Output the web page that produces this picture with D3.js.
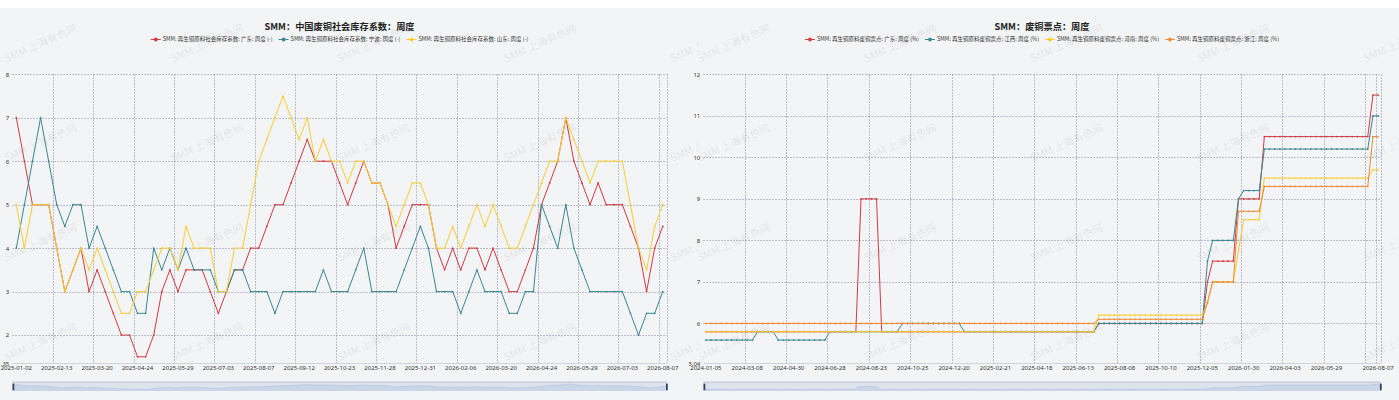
<!DOCTYPE html>
<html><head><meta charset="utf-8">
<script src="https://cdn.jsdelivr.net/npm/d3@7"></script>
<style>
html,body{margin:0;padding:0;background:#fff;overflow:hidden;}
svg{display:block;font-family:"Noto Sans CJK SC","Noto Sans",sans-serif;}
</style></head><body>
<svg id="c" width="1399" height="400"></svg>
<script>
// ---------------- LEFT CHART DATA ----------------
const leftTitle = "SMM：中国废铜社会库存系数：周度";
const leftNames = ["SMM: 再生铜原料社会库存系数: 广东: 周度 (-)","SMM: 再生铜原料社会库存系数: 宁波: 周度 (-)","SMM: 再生铜原料社会库存系数: 山东: 周度 (-)"];
const leftCategories = [
"2025-01-02","2025-01-09","2025-01-16","2025-01-23","2025-02-06","2025-02-13","2025-02-20","2025-02-27","2025-03-06","2025-03-13",
"2025-03-20","2025-03-27","2025-04-03","2025-04-10","2025-04-17","2025-04-24","2025-04-30","2025-05-08","2025-05-15","2025-05-22",
"2025-05-29","2025-06-05","2025-06-12","2025-06-19","2025-06-26","2025-07-03","2025-07-10","2025-07-17","2025-07-24","2025-07-31",
"2025-08-07","2025-08-14","2025-08-21","2025-08-28","2025-09-04","2025-09-12","2025-09-19","2025-09-26","2025-10-09","2025-10-16",
"2025-10-23","2025-10-31","2025-11-07","2025-11-14","2025-11-21","2025-11-28","2025-12-05","2025-12-12","2025-12-19","2025-12-26",
"2025-12-31","2026-01-09","2026-01-16","2026-01-23","2026-01-30","2026-02-06","2026-02-13","2026-02-27","2026-03-06","2026-03-13",
"2026-03-20","2026-03-27","2026-04-03","2026-04-10","2026-04-17","2026-04-24","2026-04-30","2026-05-08","2026-05-15","2026-05-22",
"2026-05-29","2026-06-05","2026-06-12","2026-06-19","2026-06-26","2026-07-03","2026-07-10","2026-07-17","2026-07-24","2026-07-31",
"2026-08-07"];
const leftTickLabels = ["2025-01-02","2025-02-13","2025-03-20","2025-04-24","2025-05-29","2025-07-03","2025-08-07","2025-09-12","2025-10-23","2025-11-28","2025-12-31","2026-02-06","2026-03-20","2026-04-24","2026-05-29","2026-07-03","2026-08-07"];
const leftYTicks = [2,3,4,5,6,7,8];
const leftYMin = 1.35, leftYMax = 8;
const guangdongStock = [
7,6,5,5,5,4,3,3.5,4,3,
3.5,3,2.5,2,2,1.5,1.5,2,3,3.5,
3,3.5,3.5,3.5,3,2.5,3,3.5,3.5,4,
4,4.5,5,5,5.5,6,6.5,6,6,6,
5.5,5,5.5,6,5.5,5.5,5,4,4.5,5,
5,5,4,3.5,4,3.5,4,4,3.5,4,
3.5,3,3,3.5,4,5,5.5,6,7,6,
5.5,5,5.5,5,5,5,4.5,4,3,4,
4.5];
const ningboStock = [
4,5,6,7,6,5,4.5,5,5,4,
4.5,4,3.5,3,3,2.5,2.5,4,3.5,4,
3.5,4,3.5,3.5,3.5,3,3,3.5,3.5,3,
3,3,2.5,3,3,3,3,3,3.5,3,
3,3,3.5,4,3,3,3,3,3.5,4,
4.5,4,3,3,3,2.5,3,3.5,3,3,
3,2.5,2.5,3,3,5,4.5,4,5,4,
3.5,3,3,3,3,3,2.5,2,2.5,2.5,
3];
const shandongStock = [
5,4,5,5,5,4,3,3.5,4,3.5,
4,3.5,3,2.5,2.5,3,3,3.5,4,4,
3.5,4.5,4,4,4,3,3,4,4,5,
6,6.5,7,7.5,7,6.5,7,6,6.5,6,
6,5.5,6,6,5.5,5.5,5,4.5,5,5.5,
5.5,5,4,4,4.5,4,4.5,5,4.5,5,
4.5,4,4,4.5,5,5.5,6,6,7,6.5,
6,5.5,6,6,6,6,5,4,3.5,4.5,
5];

// ---------------- RIGHT CHART DATA ----------------
const rightTitle = "SMM：废铜票点：周度";
const rightNames = ["SMM: 再生铜原料废铜票点: 广东: 周度 (%)","SMM: 再生铜原料废铜票点: 江西: 周度 (%)","SMM: 再生铜原料废铜票点: 河南: 周度 (%)","SMM: 再生铜原料废铜票点: 浙江: 周度 (%)"];
const rightCategories = [
"2024-01-05","2024-01-12","2024-01-19","2024-01-26","2024-02-02","2024-02-08","2024-02-23","2024-03-01","2024-03-08","2024-03-15",
"2024-03-22","2024-03-29","2024-04-03","2024-04-12","2024-04-19","2024-04-26","2024-04-30","2024-05-10","2024-05-17","2024-05-24",
"2024-05-31","2024-06-07","2024-06-14","2024-06-21","2024-06-28","2024-07-05","2024-07-12","2024-07-19","2024-07-26","2024-08-02",
"2024-08-09","2024-08-16","2024-08-23","2024-08-30","2024-09-06","2024-09-13","2024-09-20","2024-09-27","2024-10-11","2024-10-18",
"2024-10-25","2024-11-01","2024-11-08","2024-11-15","2024-11-22","2024-11-29","2024-12-06","2024-12-13","2024-12-20","2024-12-27",
"2025-01-03","2025-01-10","2025-01-17","2025-01-24","2025-02-07","2025-02-14","2025-02-21","2025-02-28","2025-03-07","2025-03-14",
"2025-03-21","2025-03-28","2025-04-03","2025-04-11","2025-04-18","2025-04-25","2025-04-30","2025-05-09","2025-05-16","2025-05-23",
"2025-05-30","2025-06-06","2025-06-13","2025-06-20","2025-06-27","2025-07-04","2025-07-11","2025-07-18","2025-07-25","2025-08-01",
"2025-08-08","2025-08-15","2025-08-22","2025-08-29","2025-09-05","2025-09-12","2025-09-19","2025-09-26","2025-10-10","2025-10-17",
"2025-10-24","2025-10-31","2025-11-07","2025-11-14","2025-11-21","2025-11-28","2025-12-05","2025-12-12","2025-12-19","2025-12-26",
"2026-01-02","2026-01-09","2026-01-16","2026-01-23","2026-01-30","2026-02-06","2026-02-13","2026-02-27","2026-03-06","2026-03-13",
"2026-03-20","2026-03-27","2026-04-03","2026-04-10","2026-04-17","2026-04-24","2026-04-30","2026-05-08","2026-05-15","2026-05-22",
"2026-05-29","2026-06-05","2026-06-12","2026-06-19","2026-06-26","2026-07-03","2026-07-10","2026-07-17","2026-07-24","2026-07-31",
"2026-08-07"];
const rightTickLabels = ["2024-01-05","2024-03-08","2024-04-30","2024-06-28","2024-08-23","2024-10-25","2024-12-20","2025-02-21","2025-04-18","2025-06-13","2025-08-08","2025-10-10","2025-12-05","2026-01-30","2026-04-03","2026-05-29","2026-08-07"];
const rightYTicks = [6,7,8,9,10,11,12];
const rightYMin = 5.04, rightYMax = 12;
const guangdongPoint = [
5.8,5.8,5.8,5.8,5.8,5.8,5.8,5.8,5.8,5.8,
5.8,5.8,5.8,5.8,5.8,5.8,5.8,5.8,5.8,5.8,
5.8,5.8,5.8,5.8,5.8,5.8,5.8,5.8,5.8,5.8,
9,9,9,9,5.8,5.8,5.8,5.8,5.8,5.8,
5.8,5.8,5.8,5.8,5.8,5.8,5.8,5.8,5.8,5.8,
5.8,5.8,5.8,5.8,5.8,5.8,5.8,5.8,5.8,5.8,
5.8,5.8,5.8,5.8,5.8,5.8,5.8,5.8,5.8,5.8,
5.8,5.8,5.8,5.8,5.8,5.8,6,6,6,6,
6,6,6,6,6,6,6,6,6,6,
6,6,6,6,6,6,6,7,7.5,7.5,
7.5,7.5,7.5,9,9,9,9,9,10.5,10.5,
10.5,10.5,10.5,10.5,10.5,10.5,10.5,10.5,10.5,10.5,
10.5,10.5,10.5,10.5,10.5,10.5,10.5,10.5,10.5,11.5,
11.5];
const jiangxiPoint = [
5.6,5.6,5.6,5.6,5.6,5.6,5.6,5.6,5.6,5.6,
5.8,5.8,5.8,5.8,5.6,5.6,5.6,5.6,5.6,5.6,
5.6,5.6,5.6,5.6,5.8,5.8,5.8,5.8,5.8,5.8,
5.8,5.8,5.8,5.8,5.8,5.8,5.8,5.8,6,6,
6,6,6,6,6,6,6,6,6,6,
5.8,5.8,5.8,5.8,5.8,5.8,5.8,5.8,5.8,5.8,
5.8,5.8,5.8,5.8,5.8,5.8,5.8,5.8,5.8,5.8,
5.8,5.8,5.8,5.8,5.8,5.8,6,6,6,6,
6,6,6,6,6,6,6,6,6,6,
6,6,6,6,6,6,6,7.5,8,8,
8,8,8,9,9.2,9.2,9.2,9.2,10.2,10.2,
10.2,10.2,10.2,10.2,10.2,10.2,10.2,10.2,10.2,10.2,
10.2,10.2,10.2,10.2,10.2,10.2,10.2,10.2,10.2,11,
11];
const henanPoint = [
5.8,5.8,5.8,5.8,5.8,5.8,5.8,5.8,5.8,5.8,
5.8,5.8,5.8,5.8,5.8,5.8,5.8,5.8,5.8,5.8,
5.8,5.8,5.8,5.8,5.8,5.8,5.8,5.8,5.8,5.8,
5.8,5.8,5.8,5.8,5.8,5.8,5.8,5.8,5.8,5.8,
5.8,5.8,5.8,5.8,5.8,5.8,5.8,5.8,5.8,5.8,
5.8,5.8,5.8,5.8,5.8,5.8,5.8,5.8,5.8,5.8,
5.8,5.8,5.8,5.8,5.8,5.8,5.8,5.8,5.8,5.8,
5.8,5.8,5.8,5.8,5.8,5.8,6.2,6.2,6.2,6.2,
6.2,6.2,6.2,6.2,6.2,6.2,6.2,6.2,6.2,6.2,
6.2,6.2,6.2,6.2,6.2,6.2,6.2,6.5,7,7,
7,7,7,7.75,8.5,8.5,8.5,8.5,9.5,9.5,
9.5,9.5,9.5,9.5,9.5,9.5,9.5,9.5,9.5,9.5,
9.5,9.5,9.5,9.5,9.5,9.5,9.5,9.5,9.5,9.7,
9.7];
const zhejiangPoint = [
6,6,6,6,6,6,6,6,6,6,
6,6,6,6,6,6,6,6,6,6,
6,6,6,6,6,6,6,6,6,6,
6,6,6,6,6,6,6,6,6,6,
6,6,6,6,6,6,6,6,6,6,
6,6,6,6,6,6,6,6,6,6,
6,6,6,6,6,6,6,6,6,6,
6,6,6,6,6,6,6.1,6.1,6.1,6.1,
6.1,6.1,6.1,6.1,6.1,6.1,6.1,6.1,6.1,6.1,
6.1,6.1,6.1,6.1,6.1,6.1,6.1,6.5,7,7,
7,7,7,8.7,8.7,8.7,8.7,8.7,9.3,9.3,
9.3,9.3,9.3,9.3,9.3,9.3,9.3,9.3,9.3,9.3,
9.3,9.3,9.3,9.3,9.3,9.3,9.3,9.3,9.3,10.5,
10.5];

const watermark = "SMM 上海有色网";
const colors = {red:"#d13a44", teal:"#3a8690", yellow:"#f8cd33", orange:"#ee8a33"};

// ---------------- DRAWING ----------------
const svg = d3.select("#c");
svg.append("rect").attr("width",1399).attr("height",400).attr("fill","#ffffff");
svg.append("rect").attr("y",8).attr("width",1399).attr("height",392).attr("fill","#f3f4f6");
const defs = svg.append("defs");

function drawChart(cfg){
  const g = svg.append("g");
  const clipId = "clip" + cfg.id;
  defs.append("clipPath").attr("id",clipId).append("rect")
    .attr("x",cfg.x0).attr("y",8).attr("width",cfg.w).attr("height",392);

  const x = d3.scaleBand().domain(d3.range(cfg.categories.length)).range([cfg.left,cfg.right]).padding(0);
  const y = d3.scaleLinear().domain([cfg.yMin,cfg.yMax]).range([cfg.bottom,cfg.top]);
  const cx = i => x(i) + x.bandwidth()/2;

  // watermark
  const wm = g.append("g").attr("clip-path",`url(#${clipId})`);
  for(let r=0;r<4;r++){
    for(let c=0;c<5;c++){
      const px = cfg.x0 + cfg.wmOffset + 166.5*c, py = 44 + 99.6*r;
      wm.append("text").attr("transform",`translate(${px},${py}) rotate(-24)`)
        .attr("text-anchor","middle").attr("dominant-baseline","middle")
        .attr("font-size",10.5).attr("fill","#000").attr("fill-opacity",0.09)
        .text(watermark);
    }
  }

  // horizontal grid
  const gridStyle = sel => sel.attr("stroke","#7f859f").attr("stroke-width",0.8)
      .attr("stroke-dasharray","1.5,1.5").attr("stroke-opacity",0.85);
  g.append("g").selectAll("line").data(cfg.yTicks).join("line")
    .attr("x1",cfg.left).attr("x2",cfg.right)
    .attr("y1",d=>Math.round(y(d))+0.5).attr("y2",d=>Math.round(y(d))+0.5)
    .call(gridStyle);

  // vertical grid at tick boundaries
  const labelIdx = cfg.tickLabels.map(l => cfg.categories.indexOf(l));
  const gridIdx = new Set(labelIdx.filter(i => i > 0));
  for(let i=cfg.every;i<cfg.categories.length;i+=cfg.every) gridIdx.add(i);
  const gx = [...gridIdx].map(i => x(i));
  gx.push(cfg.right);
  g.append("g").selectAll("line").data(gx).join("line")
    .attr("x1",d=>Math.round(d)+0.5).attr("x2",d=>Math.round(d)+0.5)
    .attr("y1",cfg.top).attr("y2",cfg.bottom)
    .call(gridStyle);

  // bottom axis line
  g.append("line").attr("x1",cfg.left).attr("x2",cfg.right)
    .attr("y1",Math.round(cfg.bottom)+0.5).attr("y2",Math.round(cfg.bottom)+0.5)
    .attr("stroke","#cfd3dc").attr("stroke-width",1);

  // y axis labels
  const yAxis = d3.axisLeft(y).tickValues([cfg.yMin,...cfg.yTicks]).tickSize(0).tickPadding(3)
    .tickFormat(d => String(d));
  const ya = g.append("g").attr("transform",`translate(${cfg.left},0)`).call(yAxis);
  ya.select(".domain").remove();
  ya.selectAll("text").attr("font-size",6).attr("fill","#333").attr("font-family","'Noto Sans',sans-serif");

  // x axis labels
  const xAxis = d3.axisBottom(x).tickValues(labelIdx).tickSize(0).tickPadding(2.5)
    .tickFormat(i => cfg.categories[i]);
  const xa = g.append("g").attr("transform",`translate(0,${cfg.bottom})`).call(xAxis);
  xa.select(".domain").remove();
  xa.selectAll("text").attr("font-size",6).attr("fill","#333").attr("font-family","'Noto Sans',sans-serif");

  // series
  const line = d3.line().x((d,i)=>cx(i)).y(d=>y(d));
  cfg.series.forEach(s => {
    g.append("path").datum(s.values).attr("d",line).attr("fill","none")
      .attr("stroke",s.color).attr("stroke-width",1).attr("stroke-linejoin","round");
    g.append("g").selectAll("circle").data(s.values).join("circle")
      .attr("cx",(d,i)=>cx(i)).attr("cy",d=>y(d)).attr("r",0.9).attr("fill",s.color);
  });

  // title
  const mid = (cfg.left + cfg.right)/2;
  g.append("text").attr("x",mid).attr("y",27).attr("text-anchor","middle")
    .attr("dominant-baseline","middle").attr("font-size",9.2).attr("font-weight","bold")
    .attr("fill","#222").text(cfg.title);

  // legend
  const lg = g.append("g");
  const items = cfg.series.map(s => {
    const it = lg.append("g");
    it.append("line").attr("x1",0).attr("x2",10).attr("y1",0).attr("y2",0).attr("stroke",s.color).attr("stroke-width",1);
    it.append("circle").attr("cx",5).attr("cy",0).attr("r",1.9).attr("fill",s.color);
    const t = it.append("text").attr("x",12).attr("y",0).attr("dominant-baseline","middle")
      .attr("font-size",5.5).attr("fill","#333").text(s.name);
    return {it, w: 12 + t.node().getComputedTextLength()};
  });
  const gap = 6;
  const total = d3.sum(items, d=>d.w) + gap*(items.length-1);
  let lx = mid - total/2;
  items.forEach(d => { d.it.attr("transform",`translate(${lx},39.5)`); lx += d.w + gap; });

  // data zoom slider
  const sTop = 382.5, sBot = 391;
  const sl = g.append("g");
  sl.append("rect").attr("x",cfg.left).attr("y",sTop).attr("width",cfg.right-cfg.left).attr("height",sBot-sTop)
    .attr("fill","#dde3ed");
  const v0 = cfg.series[0].values;
  const ext = d3.extent(v0), off = (ext[1]-ext[0])*0.3;
  const sy = d3.scaleLinear().domain([ext[0]-off, ext[1]+off]).range([sBot, sTop]);
  const sx = d3.scaleLinear().domain([0, v0.length-1]).range([cfg.left, cfg.right]);
  sl.append("path").datum(v0).attr("d", d3.area().x((d,i)=>sx(i)).y0(sBot).y1(d=>sy(d)))
    .attr("fill","#cad5e8");
  sl.append("path").datum(v0).attr("d", d3.line().x((d,i)=>sx(i)).y(d=>sy(d)))
    .attr("fill","none").attr("stroke","#b3c1dc").attr("stroke-width",0.6);
  sl.append("rect").attr("x",cfg.left).attr("y",sTop-1).attr("width",cfg.right-cfg.left).attr("height",1.3)
    .attr("fill","#c0c8d7");
  [cfg.left+1, cfg.right].forEach(hx => {
    sl.append("rect").attr("x",hx-0.8).attr("y",383.6).attr("width",1.8).attr("height",6.6).attr("fill","#33405a");
  });
}

drawChart({
  id:"L", x0:0, w:699, wmOffset:41,
  left:12.3, right:666.8, top:74.3, bottom:363.3,
  yMin:leftYMin, yMax:leftYMax, yTicks:leftYTicks,
  categories:leftCategories, tickLabels:leftTickLabels, every:5,
  title:leftTitle,
  series:[
    {name:leftNames[0], color:colors.red, values:guangdongStock},
    {name:leftNames[1], color:colors.teal, values:ningboStock},
    {name:leftNames[2], color:colors.yellow, values:shandongStock}
  ]
});
drawChart({
  id:"R", x0:699, w:700, wmOffset:35,
  left:703.3, right:1380.7, top:74.3, bottom:363.3,
  yMin:rightYMin, yMax:rightYMax, yTicks:rightYTicks,
  categories:rightCategories, tickLabels:rightTickLabels, every:8,
  title:rightTitle,
  series:[
    {name:rightNames[0], color:colors.red, values:guangdongPoint},
    {name:rightNames[1], color:colors.teal, values:jiangxiPoint},
    {name:rightNames[2], color:colors.yellow, values:henanPoint},
    {name:rightNames[3], color:colors.orange, values:zhejiangPoint}
  ]
});
</script>
</body></html>
